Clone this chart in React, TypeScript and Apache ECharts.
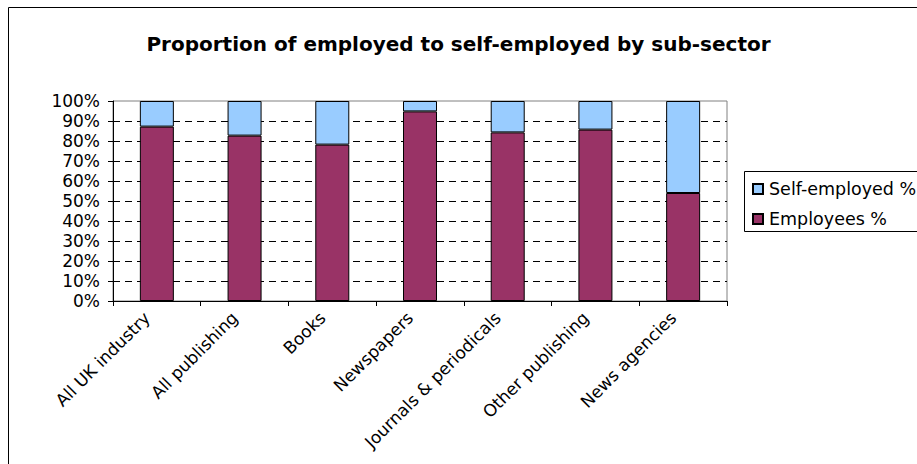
import React, { useEffect, useRef } from "react";
import * as echarts from "echarts";

const categories = [
  "All UK industry",
  "All publishing",
  "Books",
  "Newspapers",
  "Journals & periodicals",
  "Other publishing",
  "News agencies",
];
const employeesPct = [87.2, 82.7, 78.2, 94.8, 84.3, 85.7, 54.0];
const selfEmployedPct = [12.8, 17.3, 21.8, 5.2, 15.7, 14.3, 46.0];
const yTicks = [0, 10, 20, 30, 40, 50, 60, 70, 80, 90, 100];

const FONT = "DejaVu Sans, Liberation Sans, Arial, sans-serif";

export default function App() {
  const ref = useRef<HTMLDivElement>(null);
  useEffect(() => {
    if (!ref.current) return;
    const chart = echarts.init(ref.current, null, { renderer: "svg" });
    chart.setOption({
      animation: false,
      backgroundColor: "#ffffff",
      title: {
        text: "Proportion of employed to self-employed by sub-sector",
        left: "center",
        top: 29,
        textStyle: { fontFamily: FONT, fontSize: 20, fontWeight: "bold", color: "#000" },
      },
      graphic: [
        {
          type: "rect",
          shape: { x: 8.5, y: 7.5, width: 1000, height: 1000 },
          style: { fill: "none", stroke: "#000", lineWidth: 1 },
          z: 100,
        },
        {
          type: "rect",
          shape: { x: 744.5, y: 171.5, width: 400, height: 60 },
          style: { fill: "#fff", stroke: "#000", lineWidth: 1 },
          z: 1,
        },
      ],
      legend: {
        orient: "vertical",
        left: 747,
        top: 175,
        itemWidth: 10,
        itemHeight: 10,
        itemGap: 12,
        icon: "rect",
        data: ["Self-employed %", "Employees %"],
        textStyle: { fontFamily: FONT, fontSize: 17.5, color: "#000", padding: [0, 0, 0, 1] },
        z: 5,
      },
      grid: {
        left: 113,
        right: 190,
        top: 101,
        bottom: 163,
        show: true,
        borderColor: "#808080",
        borderWidth: 1,
        backgroundColor: "#fff",
      },
      xAxis: {
        type: "category",
        data: categories,
        boundaryGap: true,
        axisLine: { lineStyle: { color: "#000", width: 1 } },
        axisTick: { show: true, length: 5, lineStyle: { color: "#000" }, alignWithLabel: false },
        axisLabel: {
          rotate: 45,
          interval: 0,
          margin: 4,
          padding: [0, 14, 0, 0],
          fontFamily: FONT,
          fontSize: 17,
          color: "#000",
        },
      },
      yAxis: {
        type: "value",
        min: 0,
        max: 100,
        interval: 10,
        axisLine: { show: true, lineStyle: { color: "#000", width: 1 } },
        axisTick: { show: true, length: 5, lineStyle: { color: "#000" } },
        axisLabel: {
          formatter: (v: number) => (yTicks.includes(v) ? v + "%" : ""),
          margin: 13,
          fontFamily: FONT,
          fontSize: 17,
          color: "#000",
        },
        splitLine: {
          show: true,
          showMaxLine: false,
          showMinLine: false,
          lineStyle: { color: "#000", type: [7, 5], width: 1 },
        },
      },
      series: [
        {
          name: "Employees %",
          type: "bar",
          stack: "total",
          data: employeesPct,
          barWidth: 34,
          itemStyle: { color: "#993366", borderColor: "#000", borderWidth: 1 },
        },
        {
          name: "Self-employed %",
          type: "bar",
          stack: "total",
          data: selfEmployedPct,
          barWidth: 34,
          itemStyle: { color: "#99CCFF", borderColor: "#000", borderWidth: 1 },
        },
      ],
    });
    return () => chart.dispose();
  }, []);
  return (
    <div
      ref={ref}
      style={{ position: "absolute", left: 0, top: 0, width: 917, height: 464 }}
    />
  );
}
